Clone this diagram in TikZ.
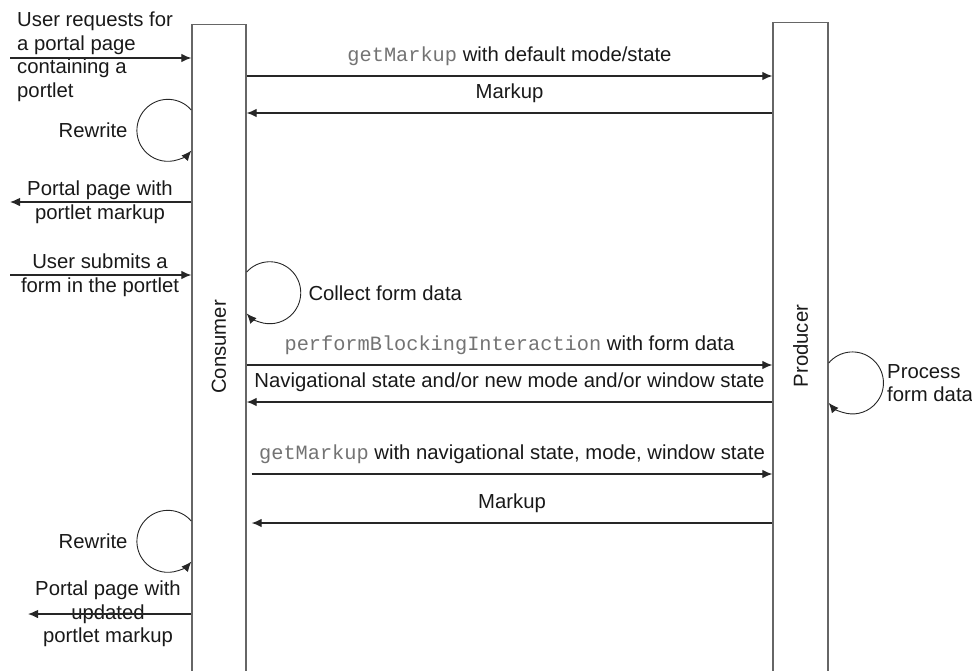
\documentclass[tikz,border=0pt]{standalone}
\usepackage{fontspec}
\setmainfont{Liberation Sans}
\setmonofont{Liberation Mono}
\usepackage{xcolor}
\usetikzlibrary{arrows.meta}

\newcommand{\wsrpcall}[1]{{\ttfamily\color{black!55}#1}}

\begin{document}
\begin{tikzpicture}[
  x=1pt, y=-1pt,
  font=\fontsize{20.3}{23.5}\selectfont,
  every node/.style={text=black!90},
  lifeline/.style={draw=black!60, line width=1.4pt, anchor=north,
                   minimum width=54pt, minimum height=700pt, inner sep=0pt},
  msg/.style={-{Latex[length=10pt, width=8.5pt]}, line width=1.1pt, black!85},
  loop/.style={msg, line width=0.9pt},
  note/.style={align=center, inner sep=1pt},
  lead/.style={midway, yshift=20pt},
]
\useasboundingbox (0,0) rectangle (972,670);
\clip (0,0) rectangle (972,670);

\node[lifeline] (consumer) at (219,24) {};
\node[lifeline, minimum width=55pt] (producer) at (800.5,22) {};
\node[rotate=90] (consumername) at (219,347) {Consumer};
\node[rotate=90] (producername) at (800.5,346) {Producer};

\coordinate (pagein) at (10,58);
\node[note, anchor=west, align=left] (request) at (16,57) {User requests for\\a portal page\\containing a\\portlet};
\draw[msg] (pagein) -- (consumer.west |- pagein);

\draw[msg] (consumer.east |- 0,76) -- node[lead] {\wsrpcall{getMarkup} with default mode/state} (producer.west |- 0,76);
\draw[msg] (producer.west |- 0,113) -- node[lead] {Markup} (consumer.east |- 0,113);

\draw[loop] (consumer.west |- 0,110) arc[start angle=-41, end angle=-319, radius=31];
\node[anchor=east] (rewrite) at (131,130) {Rewrite};

\coordinate (pageout) at (10,202);
\node[note] (portalpage) at (100,202) {Portal page with\\portlet markup};
\draw[msg] (consumer.west |- pageout) -- (pageout);

\coordinate (formin) at (10,275);
\node[note] (submit) at (100,275) {User submits a\\form in the portlet};
\draw[msg] (formin) -- (consumer.west |- formin);

\draw[loop] (consumer.east |- 0,272) arc[start angle=-138, end angle=138, radius=31];
\node[anchor=west] (collect) at (305,293) {Collect form data};

\draw[msg] (consumer.east |- 0,365) -- node[lead] {\wsrpcall{performBlockingInteraction} with form data} (producer.west |- 0,365);
\draw[msg] (producer.west |- 0,402) -- node[lead] {Navigational state and/or new mode and/or window state} (consumer.east |- 0,402);

\draw[loop] (producer.east |- 0,363) arc[start angle=-140, end angle=140, radius=31];
\node[note, anchor=west, align=left] (process) at (886,383) {Process\\form data};

\draw[msg] ([xshift=5pt]consumer.east |- 0,474) -- node[lead] {\wsrpcall{getMarkup} with navigational state, mode, window state} (producer.west |- 0,474);
\draw[msg] (producer.west |- 0,523) -- node[lead] {Markup} ([xshift=5pt]consumer.east |- 0,523);

\draw[loop] (consumer.west |- 0,521) arc[start angle=-41, end angle=-319, radius=31];
\node[anchor=east] (rewriteagain) at (131,541) {Rewrite};

\coordinate (updatedout) at (28,614);
\node[note] (updatedpage) at (108,614) {Portal page with\\updated\\portlet markup};
\draw[msg] (consumer.west |- updatedout) -- (updatedout);
\end{tikzpicture}
\end{document}
